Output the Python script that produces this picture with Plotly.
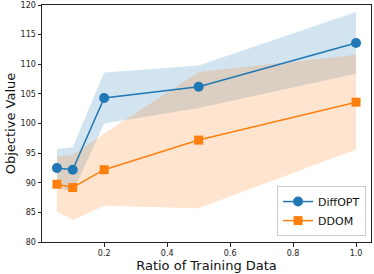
import plotly.graph_objects as go

ratios = [0.05, 0.1, 0.2, 0.5, 1.0]
diffopt_mean = [92.5, 92.2, 104.3, 106.2, 113.6]
diffopt_std = [3.2, 3.8, 4.3, 3.6, 5.2]
ddom_mean = [89.75, 89.2, 92.2, 97.2, 103.6]
ddom_std = [4.65, 5.5, 6.1, 11.5, 8.0]
x_ticks = [0.2, 0.4, 0.6, 0.8, 1.0]
x_tick_labels = ["0.2", "0.4", "0.6", "0.8", "1.0"]
y_ticks = [80, 85, 90, 95, 100, 105, 110, 115, 120]

BLUE = "#1f77b4"
ORANGE = "#ff7f0e"
FONT = "DejaVu Sans"

fig = go.Figure()

def band(mean, std, color_rgba):
    upper = [m + s for m, s in zip(mean, std)]
    lower = [m - s for m, s in zip(mean, std)]
    return go.Scatter(
        x=ratios + ratios[::-1],
        y=upper + lower[::-1],
        fill="toself",
        fillcolor=color_rgba,
        line=dict(width=0),
        mode="lines",
        hoverinfo="skip",
        showlegend=False,
    )

fig.add_trace(band(diffopt_mean, diffopt_std, "rgba(31,119,180,0.2)"))
fig.add_trace(band(ddom_mean, ddom_std, "rgba(255,127,14,0.2)"))

fig.add_trace(go.Scatter(
    x=ratios, y=diffopt_mean, mode="lines+markers", name="DiffOPT",
    line=dict(color=BLUE, width=1.5),
    marker=dict(symbol="circle", size=10, color=BLUE),
))
fig.add_trace(go.Scatter(
    x=ratios, y=ddom_mean, mode="lines+markers", name="DDOM",
    line=dict(color=ORANGE, width=1.5),
    marker=dict(symbol="square", size=9, color=ORANGE),
))

axis_common = dict(
    showgrid=False, zeroline=False, showline=True, linecolor="#222", linewidth=1,
    mirror=True, ticks="outside", ticklen=3.5, tickwidth=0.8, tickcolor="#222",
    tickfont=dict(family=FONT, size=8, color="#222"), automargin=False,
)

fig.update_layout(
    width=374, height=274,
    margin=dict(l=42, r=3, t=5, b=32),
    paper_bgcolor="white", plot_bgcolor="white",
    font=dict(family=FONT, color="#111"),
    xaxis=dict(
        range=[0.0025, 1.0475], tickvals=x_ticks, ticktext=x_tick_labels,
        title=dict(text="Ratio of Training Data", font=dict(family=FONT, size=13), standoff=1),
        **axis_common,
    ),
    yaxis=dict(
        range=[80, 120], tickvals=y_ticks,
        title=dict(text="Objective Value", font=dict(family=FONT, size=13), standoff=2),
        **axis_common,
    ),
    legend=dict(
        x=0.985, y=0.025, xanchor="right", yanchor="bottom",
        bgcolor="rgba(255,255,255,0.85)", bordercolor="#cccccc", borderwidth=1,
        font=dict(family=FONT, size=11, color="#111"),
        itemwidth=30, tracegroupgap=0,
    ),
)

fig.write_html(
    "out.html",
    config={"displayModeBar": False},
    post_script="document.body.style.margin='0';document.body.style.overflow='hidden';",
)
